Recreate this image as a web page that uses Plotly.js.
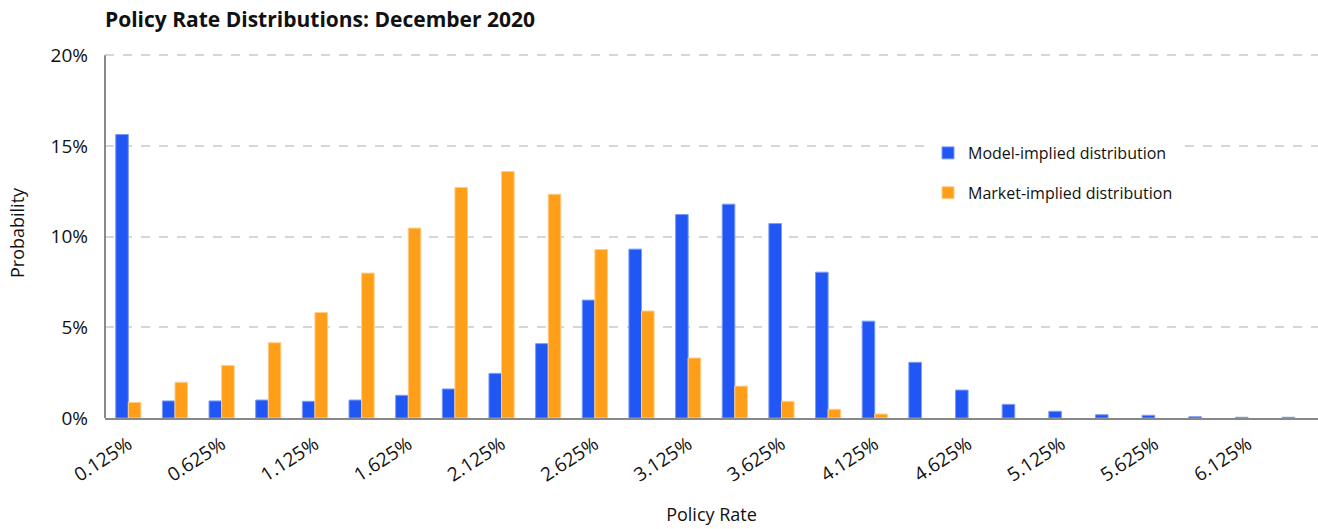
<!DOCTYPE html>
<html>
<head>
<meta charset="utf-8">
<script src="https://cdn.plot.ly/plotly-3.0.1.min.js"></script>
<style>
html,body{margin:0;padding:0;background:#fff;}
#chart{width:1318px;height:529px;}
</style>
</head>
<body>
<div id="chart"></div>
<script>
const categories = ["0.125%","0.375%","0.625%","0.875%","1.125%","1.375%","1.625%","1.875%","2.125%","2.375%","2.625%","2.875%","3.125%","3.375%","3.625%","3.875%","4.125%","4.375%","4.625%","4.875%","5.125%","5.375%","5.625%","5.875%","6.125%","6.375%"];
const modelImplied = [15.63,0.94,0.94,0.99,0.92,0.99,1.25,1.6,2.46,4.1,6.5,9.31,11.22,11.79,10.72,8.04,5.34,3.07,1.54,0.75,0.37,0.18,0.15,0.07,0.04,0.04];
const marketImplied = [0.86,1.97,2.9,4.15,5.82,7.99,10.47,12.71,13.59,12.34,9.29,5.9,3.31,1.76,0.92,0.48,0.22,0,0,0,0,0,0,0,0,0];
const xTickLabels = ["0.125%","0.625%","1.125%","1.625%","2.125%","2.625%","3.125%","3.625%","4.125%","4.625%","5.125%","5.625%","6.125%"];
const yTickVals = [0,5,10,15,20];
const yTickText = ["0%","5%","10%","15%","20%"];

const font = "Open Sans, Noto Sans, sans-serif";

const traces = [
  {type:"bar", name:"Model-implied distribution", x:categories, y:modelImplied,
   legendgroup:"a",
   marker:{color:"#2056F3", line:{color:"#7B9BF7", width:1}}, hoverinfo:"x+y"},
  {type:"bar", name:"Market-implied distribution", x:categories, y:marketImplied,
   legendgroup:"b",
   marker:{color:"#FF9E19", line:{color:marketImplied.map(v => v > 0 ? "#FFCF8A" : "rgba(0,0,0,0)"), width:1}}, hoverinfo:"x+y"}
];

const layout = {
  width:1318, height:529,
  margin:{l:105, r:0, t:48, b:111},
  paper_bgcolor:"#fff", plot_bgcolor:"#fff",
  font:{family:font, color:"#111", size:17},
  title:{text:"<b>Policy Rate Distributions: December 2020</b>", x:105/1318, xanchor:"left", y:1-20/529, yanchor:"middle", font:{size:21, family:font, color:"#111"}},
  barmode:"group", bargap:0.46, bargroupgap:0,
  xaxis:{
    type:"category", tickmode:"array", tickvals:xTickLabels, ticktext:xTickLabels,
    tickangle:-33, ticks:"", showgrid:false, showline:true, linecolor:"#888", linewidth:2,
    ticklabelstandoff:6,
    tickfont:{size:19, family:font, color:"#111"},
    title:{text:"Policy Rate", font:{size:18, family:font, color:"#111"}, standoff:22}
  },
  yaxis:{
    range:[0,20.4], tickmode:"array", tickvals:yTickVals, ticktext:yTickText,
    showgrid:true, gridcolor:"#d6d6d6", griddash:"dash", gridwidth:2,
    showline:false, zeroline:false, ticks:"",
    ticklabelstandoff:16,
    tickfont:{size:19, family:font, color:"#111"},
    title:{text:"Probability", font:{size:18, family:font, color:"#111"}, standoff:21}
  },
  shapes:[{type:"line", xref:"paper", yref:"y", x0:0, x1:0, y0:0, y1:yTickVals[yTickVals.length-1], line:{color:"#888", width:2}}],
  legend:{x:(928-105)/1213, xanchor:"left", y:(418-136)/370, yanchor:"top",
    bgcolor:"#fff", font:{size:16, family:font, color:"#111"},
    traceorder:"grouped", tracegroupgap:16, itemwidth:30},
  showlegend:true
};

Plotly.newPlot("chart", traces, layout, {displayModeBar:false, staticPlot:true});
</script>
</body>
</html>
